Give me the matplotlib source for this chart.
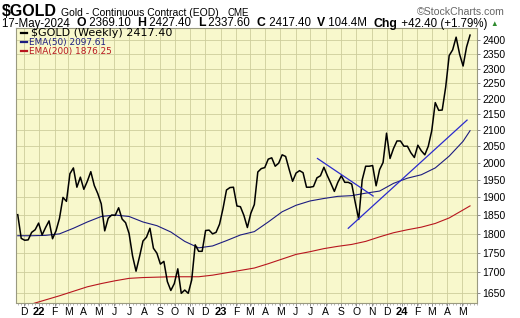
import numpy as np
import pandas as pd
import matplotlib
matplotlib.use("Agg")
import matplotlib.pyplot as plt
import matplotlib.dates as mdates
from matplotlib.lines import Line2D

# weekly closes, 2021-11-19 .. 2024-05-17
gold_close = [
    1852, 1788, 1783, 1784, 1804, 1811, 1829,
    # 2022
    1797, 1817, 1835, 1787, 1808, 1842, 1900, 1889, 1968, 1985, 1929, 1958,
    1923, 1946, 1974, 1934, 1911, 1882, 1808, 1842, 1851, 1850, 1871, 1840, 1830,
    1801, 1742, 1703, 1740, 1781, 1791, 1815, 1762, 1749, 1721, 1728, 1677, 1655, 1672,
    1709, 1648, 1656, 1648, 1681, 1771, 1754, 1754, 1809, 1810, 1800, 1804, 1826,
    # 2023
    1869, 1921, 1928, 1929, 1876, 1874, 1850, 1817, 1856, 1880, 1973, 1983, 1986,
    2011, 2015, 1990, 1999, 2024, 2019, 1981, 1946, 1970, 1977, 1971, 1929, 1929,
    1931, 1956, 1962, 1987, 1962, 1940, 1917, 1943, 1962, 1943, 1943, 1938, 1886,
    1839, 1950, 1990, 1990, 1992, 1933, 1980, 2001, 2090, 2013, 2043, 2066, 2066,
    # 2024
    2050, 2050, 2030, 2016, 2053, 2036, 2024, 2050, 2098, 2187, 2162, 2163, 2238,
    2345, 2365, 2410, 2350, 2309, 2375, 2417.40,
]
weeks = pd.date_range("2021-11-19", periods=len(gold_close), freq="7D")

ema_dates = pd.to_datetime([
    "2021-11-19", "2021-12-17", "2022-01-14", "2022-02-11", "2022-03-11", "2022-04-08",
    "2022-05-06", "2022-06-03", "2022-07-01", "2022-07-29", "2022-08-26", "2022-09-23",
    "2022-10-21", "2022-11-18", "2022-12-16", "2023-01-13", "2023-02-10", "2023-03-10",
    "2023-04-07", "2023-05-05", "2023-06-02", "2023-06-30", "2023-07-28", "2023-08-25",
    "2023-09-22", "2023-10-20", "2023-11-17", "2023-12-15", "2024-01-12", "2024-02-09",
    "2024-03-08", "2024-04-05", "2024-05-03", "2024-05-17",
])
ema50 = [1795, 1795, 1796, 1800, 1815, 1832, 1847, 1851, 1847, 1832, 1822, 1805,
         1780, 1763, 1768, 1782, 1797, 1806, 1832, 1860, 1878, 1890, 1897, 1903,
         1905, 1912, 1918, 1940, 1955, 1965, 1985, 2020, 2065, 2097.61]
ema200 = [1612, 1622, 1632, 1642, 1653, 1664, 1672, 1679, 1685, 1687, 1688, 1689,
          1689, 1689, 1693, 1699, 1705, 1711, 1722, 1734, 1746, 1753, 1761, 1767,
          1772, 1780, 1792, 1803, 1811, 1818, 1828, 1843, 1865, 1876.25]

# hand-drawn trend lines
trend_down = (pd.to_datetime(["2023-07-15", "2023-11-04"]), [2013, 1904])
trend_up = (pd.to_datetime(["2023-09-15", "2024-05-11"]), [1815, 2131])

y_ticks = list(range(1650, 2401, 50))
month_letters = "JFMAMJJASOND"

W, H = 520, 318
BG = "#f8f8cc"
GRID = "#cdcd9c"
EMA50_C = "#1c1c80"
EMA200_C = "#b8161e"
SANS = "Liberation Sans"


def fx(x, y):
    return x / W, 1 - y / H


fig = plt.figure(figsize=(W / 100, H / 100), dpi=100)
fig.patch.set_facecolor("white")
ax = fig.add_axes([16 / W, 1 - 302.5 / H, (477 - 16) / W, (302.5 - 28) / H])
ax.set_facecolor(BG)

ax.plot(weeks, gold_close, color="black", lw=1.1, zorder=4)
ax.plot(ema_dates, ema50, color=EMA50_C, lw=0.8, zorder=3)
ax.plot(ema_dates, ema200, color=EMA200_C, lw=0.8, zorder=3)
ax.plot(*trend_down, color="#2a2acc", lw=0.9, zorder=5)
ax.plot(*trend_up, color="#2a2acc", lw=0.9, zorder=5)

ax.set_yscale("log")
ax.set_ylim(1625.7, 2443)
ax.set_xlim(pd.Timestamp("2021-11-15 12:00"), pd.Timestamp("2024-05-31"))

ax.yaxis.tick_right()
ax.yaxis.set_major_locator(matplotlib.ticker.FixedLocator(y_ticks))
ax.yaxis.set_major_formatter(matplotlib.ticker.FixedFormatter([str(v) for v in y_ticks]))
ax.yaxis.set_minor_locator(matplotlib.ticker.NullLocator())
ax.tick_params(axis="y", length=2, width=0.6, color="#777777", pad=2, labelsize=7.5)
for t in ax.get_yticklabels():
    t.set_family(SANS)

month_starts = pd.date_range("2021-12-01", "2024-05-01", freq="MS")
ax.set_xticks(month_starts)
labels = [str(d.year)[2:] if d.month == 1 else month_letters[d.month - 1] for d in month_starts]
ax.set_xticklabels(labels)
ax.xaxis.set_minor_locator(mdates.WeekdayLocator(byweekday=mdates.FR))
ax.tick_params(axis="x", which="major", length=2, width=0.6, color="#777777", pad=1.5, labelsize=7.5)
ax.tick_params(axis="x", which="minor", length=1.2, width=0.5, color="#999999")
for d, t in zip(month_starts, ax.get_xticklabels()):
    t.set_family(SANS)
    if d.month == 1:
        t.set_fontweight("bold")
        t.set_fontsize(8)

ax.grid(True, which="major", color=GRID, lw=0.6)
for s in ax.spines.values():
    s.set_color("#9a9a80")
    s.set_linewidth(0.8)

# legend block
leg_items = [
    ("$GOLD (Weekly) 2417.40", "black", 8, 36, 31),
    ("EMA(50) 2097.61", EMA50_C, 6.4, 45, 29),
    ("EMA(200) 1876.25", EMA200_C, 6.4, 54, 29),
]
for txt, c, fs, y, x0 in leg_items:
    fig.add_artist(Line2D([21 / W, 27 / W], [1 - (y - 3.5) / H] * 2, color=c, lw=1.6))
    fig.text(*fx(x0, y), txt, color=c, fontsize=fs, family="DejaVu Sans", va="baseline")

# header
fig.text(*fx(2, 16), "$GOLD", fontsize=11.5, fontweight="bold", family=SANS, va="baseline")
fig.text(*fx(61, 16), "Gold - Continuous Contract (EOD)", fontsize=7.5, family=SANS, va="baseline")
fig.text(*fx(227, 16), "CME", fontsize=7, family=SANS, va="baseline")
fig.text(*fx(505, 15), "\u00a9StockCharts.com", fontsize=7.6, family=SANS, color="#666666",
         ha="right", va="baseline")

renderer = fig.canvas.get_renderer()
pieces = [
    ("17-May-2024  ", "normal", "black", 8.3),
    ("O", "bold", "black", 8.8),
    (" 2369.10  ", "normal", "black", 8.3),
    ("H", "bold", "black", 8.8),
    (" 2427.40  ", "normal", "black", 8.3),
    ("L", "bold", "black", 8.8),
    (" 2337.60  ", "normal", "black", 8.3),
    ("C", "bold", "black", 8.8),
    (" 2417.40  ", "normal", "black", 8.3),
    ("V", "bold", "black", 8.8),
    (" 104.4M  ", "normal", "black", 8.3),
    ("Chg", "bold", "black", 8.8),
    (" +42.40 (+1.79%) ", "normal", "black", 8.3),
    ("\u25b2", "normal", "#2e8b2e", 5.5),
]
x = 2 / W
for s, wgt, c, fs in pieces:
    t = fig.text(x, 1 - 26.5 / H, s, fontsize=fs, fontweight=wgt, color=c,
                 family=[SANS, "DejaVu Sans"], va="baseline")
    bb = t.get_window_extent(renderer)
    x = bb.x1 / fig.bbox.width

fig.savefig("out.png", dpi=100)
